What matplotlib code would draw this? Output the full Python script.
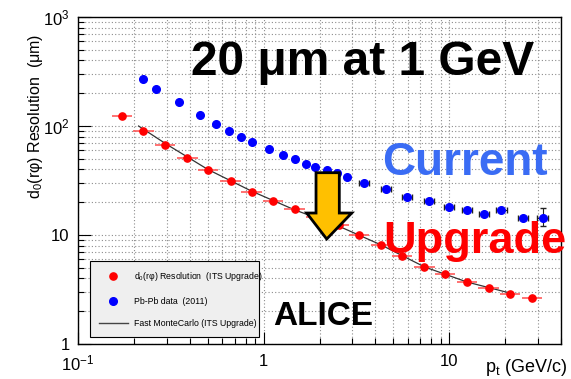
import matplotlib
matplotlib.use('Agg')
import numpy as np
from matplotlib import pyplot as plt
from matplotlib.patches import Polygon
from matplotlib.lines import Line2D

plt.rcParams['font.family'] = ['Liberation Sans', 'DejaVu Sans']
plt.rcParams['mathtext.fontset'] = 'custom'
plt.rcParams['mathtext.rm'] = 'Liberation Sans'
plt.rcParams['mathtext.it'] = 'Liberation Sans:italic'
plt.rcParams['mathtext.bf'] = 'Liberation Sans:bold'

# ITS upgrade: d0(r-phi) resolution vs pt
upg_pt = [0.172, 0.225, 0.295, 0.388, 0.502, 0.664, 0.861, 1.12, 1.47, 1.93,
          2.54, 3.26, 4.29, 5.57, 7.35, 9.51, 12.5, 16.3, 21.3, 27.9]
upg_res = [123.6, 90.6, 66.9, 50.9, 39.5, 31.3, 25.0, 20.5, 17.2, 14.6,
           12.4, 10.0, 8.1, 6.4, 5.12, 4.36, 3.71, 3.24, 2.89, 2.66]
upg_bin_hw = 0.055  # half bin width in decades

# Pb-Pb data 2011
pbpb_pt = [0.224, 0.263, 0.352, 0.453, 0.552, 0.653, 0.757, 0.865, 1.07, 1.27,
           1.47, 1.69, 1.90, 2.20, 2.49, 2.83, 3.47, 4.56, 5.90, 7.76,
           10.0, 12.5, 15.4, 19.1, 25.0, 31.8]
pbpb_res = [270, 220, 167, 127, 104, 90.6, 79.8, 71.8, 61.1, 53.9,
            49.3, 45.1, 42.2, 39.2, 37.0, 34.3, 30.3, 26.3, 22.2, 20.5,
            18.2, 17.0, 15.5, 17.0, 14.2, 14.2]
pbpb_bin_hw = [0] * 16 + [0.028] * 10
pbpb_err_lo = [0] * 25 + [2.1]
pbpb_err_hi = [0] * 25 + [3.4]

# fast MC curve
fmc_pt = [0.212, 0.3, 0.5, 0.86, 1.47, 2.5, 4.3, 7.35, 12.5, 21.0]
fmc_res = [100, 68, 40, 25.3, 17.0, 12.2, 8.1, 5.1, 3.7, 2.95]

xtick_vals = [0.1, 1, 10]
xtick_labels = ['$10^{-1}$', '1', '10']
ytick_vals = [1, 10, 100, 1000]
ytick_labels = ['1', '10', '$10^{2}$', '$10^{3}$']


def log_err(x, hw):
    x = np.asarray(x, dtype=float)
    hw = np.asarray(hw, dtype=float)
    return np.vstack([x * (1 - 10 ** -hw), x * (10 ** hw - 1)])


fig = plt.figure(figsize=(5.71, 3.79), dpi=100)
ax = fig.add_axes([0.1366, 0.0923, 0.8459, 0.8628])
ax.set_xscale('log')
ax.set_yscale('log')
ax.set_xlim(0.1, 40)
ax.set_ylim(1, 1000)

ax.grid(True, which='both', color='#8c8c8c', linestyle=(0, (1, 2)), linewidth=0.8)
ax.set_axisbelow(True)

ax.plot(fmc_pt, fmc_res, color='#333333', lw=0.9, zorder=2)

ax.errorbar(upg_pt, upg_res, xerr=log_err(upg_pt, upg_bin_hw), fmt='o',
            color='red', ecolor='#ff5a5a', elinewidth=1.2, ms=5.2,
            mec='red', zorder=3)

ax.errorbar(pbpb_pt, pbpb_res, xerr=log_err(pbpb_pt, pbpb_bin_hw),
            yerr=[pbpb_err_lo, pbpb_err_hi], fmt='none', ecolor='#222222',
            elinewidth=0.8, capsize=2, zorder=3)
ax.plot(pbpb_pt, pbpb_res, 'o', color='blue', ms=5.5, zorder=4)

ax.set_xticks(xtick_vals)
ax.set_xticklabels(xtick_labels)
ax.set_yticks(ytick_vals)
ax.set_yticklabels(ytick_labels)
ax.tick_params(which='both', direction='in', labelsize=12)
ax.tick_params(which='major', length=9, width=0.8)
ax.tick_params(which='minor', length=4.5, width=0.8)
ax.tick_params(axis='x', pad=7)
ax.tick_params(axis='y', pad=6)
for s in ax.spines.values():
    s.set_linewidth(1.0)

fig.text(0.993, 0.0185, r'p$_\mathregular{t}$ (GeV/c)', fontsize=13,
         ha='right', va='baseline')
fig.text(0.063, 0.694, r'd$_\mathregular{0}$(rφ) Resolution  (μm)',
         fontsize=11.5, rotation=90, ha='center', va='center')

# big labels
ax.text(0.5884, 0.8226, '20 μm at 1 GeV', transform=ax.transAxes,
        fontsize=34.5, fontweight='bold', ha='center', va='baseline', zorder=6)
ax.text(0.6288, 0.5168, 'Current', transform=ax.transAxes, color='#3a6cf4',
        fontsize=33, fontweight='bold', ha='left', va='baseline', zorder=6)
ax.text(0.6315, 0.2774, 'Upgrade', transform=ax.transAxes, color='#ff0000',
        fontsize=32.5, fontweight='bold', ha='left', va='baseline', zorder=6,
        clip_on=False)
ax.text(0.405, 0.0581, 'ALICE', transform=ax.transAxes,
        fontsize=24, fontweight='bold', ha='left', va='baseline', zorder=6)

# downward arrow
arrow_xy = [(0.4928, 0.5239), (0.5410, 0.5239), (0.5410, 0.4006),
            (0.5667, 0.4006), (0.5149, 0.3211), (0.4735, 0.4006),
            (0.4928, 0.4006)]
ax.add_patch(Polygon(arrow_xy, closed=True, transform=ax.transAxes,
                     facecolor='#ffc000', edgecolor='black', lw=2,
                     joinstyle='miter', zorder=7))

handles = [
    Line2D([], [], ls='none', marker='o', color='red', ms=5.2),
    Line2D([], [], ls='none', marker='o', color='blue', ms=5.5),
    Line2D([], [], color='#444444', lw=1.0),
]
labels = [r'd$_\mathregular{0}$(rφ) Resolution  (ITS Upgrade)',
          'Pb-Pb data  (2011)', 'Fast MonteCarlo (ITS Upgrade)']
leg = ax.legend(handles, labels, loc='lower left',
                bbox_to_anchor=(0.0248, 0.0214, 0.3499, 0.2263),
                mode='expand', borderaxespad=0,
                fontsize=6.3, fancybox=False, framealpha=1,
                facecolor='#efefef', edgecolor='black',
                handlelength=3.3, handletextpad=0.7, labelspacing=1.55,
                borderpad=1.0)
leg.get_frame().set_linewidth(0.8)
leg.set_zorder(8)

fig.savefig('out.png', dpi=100)
